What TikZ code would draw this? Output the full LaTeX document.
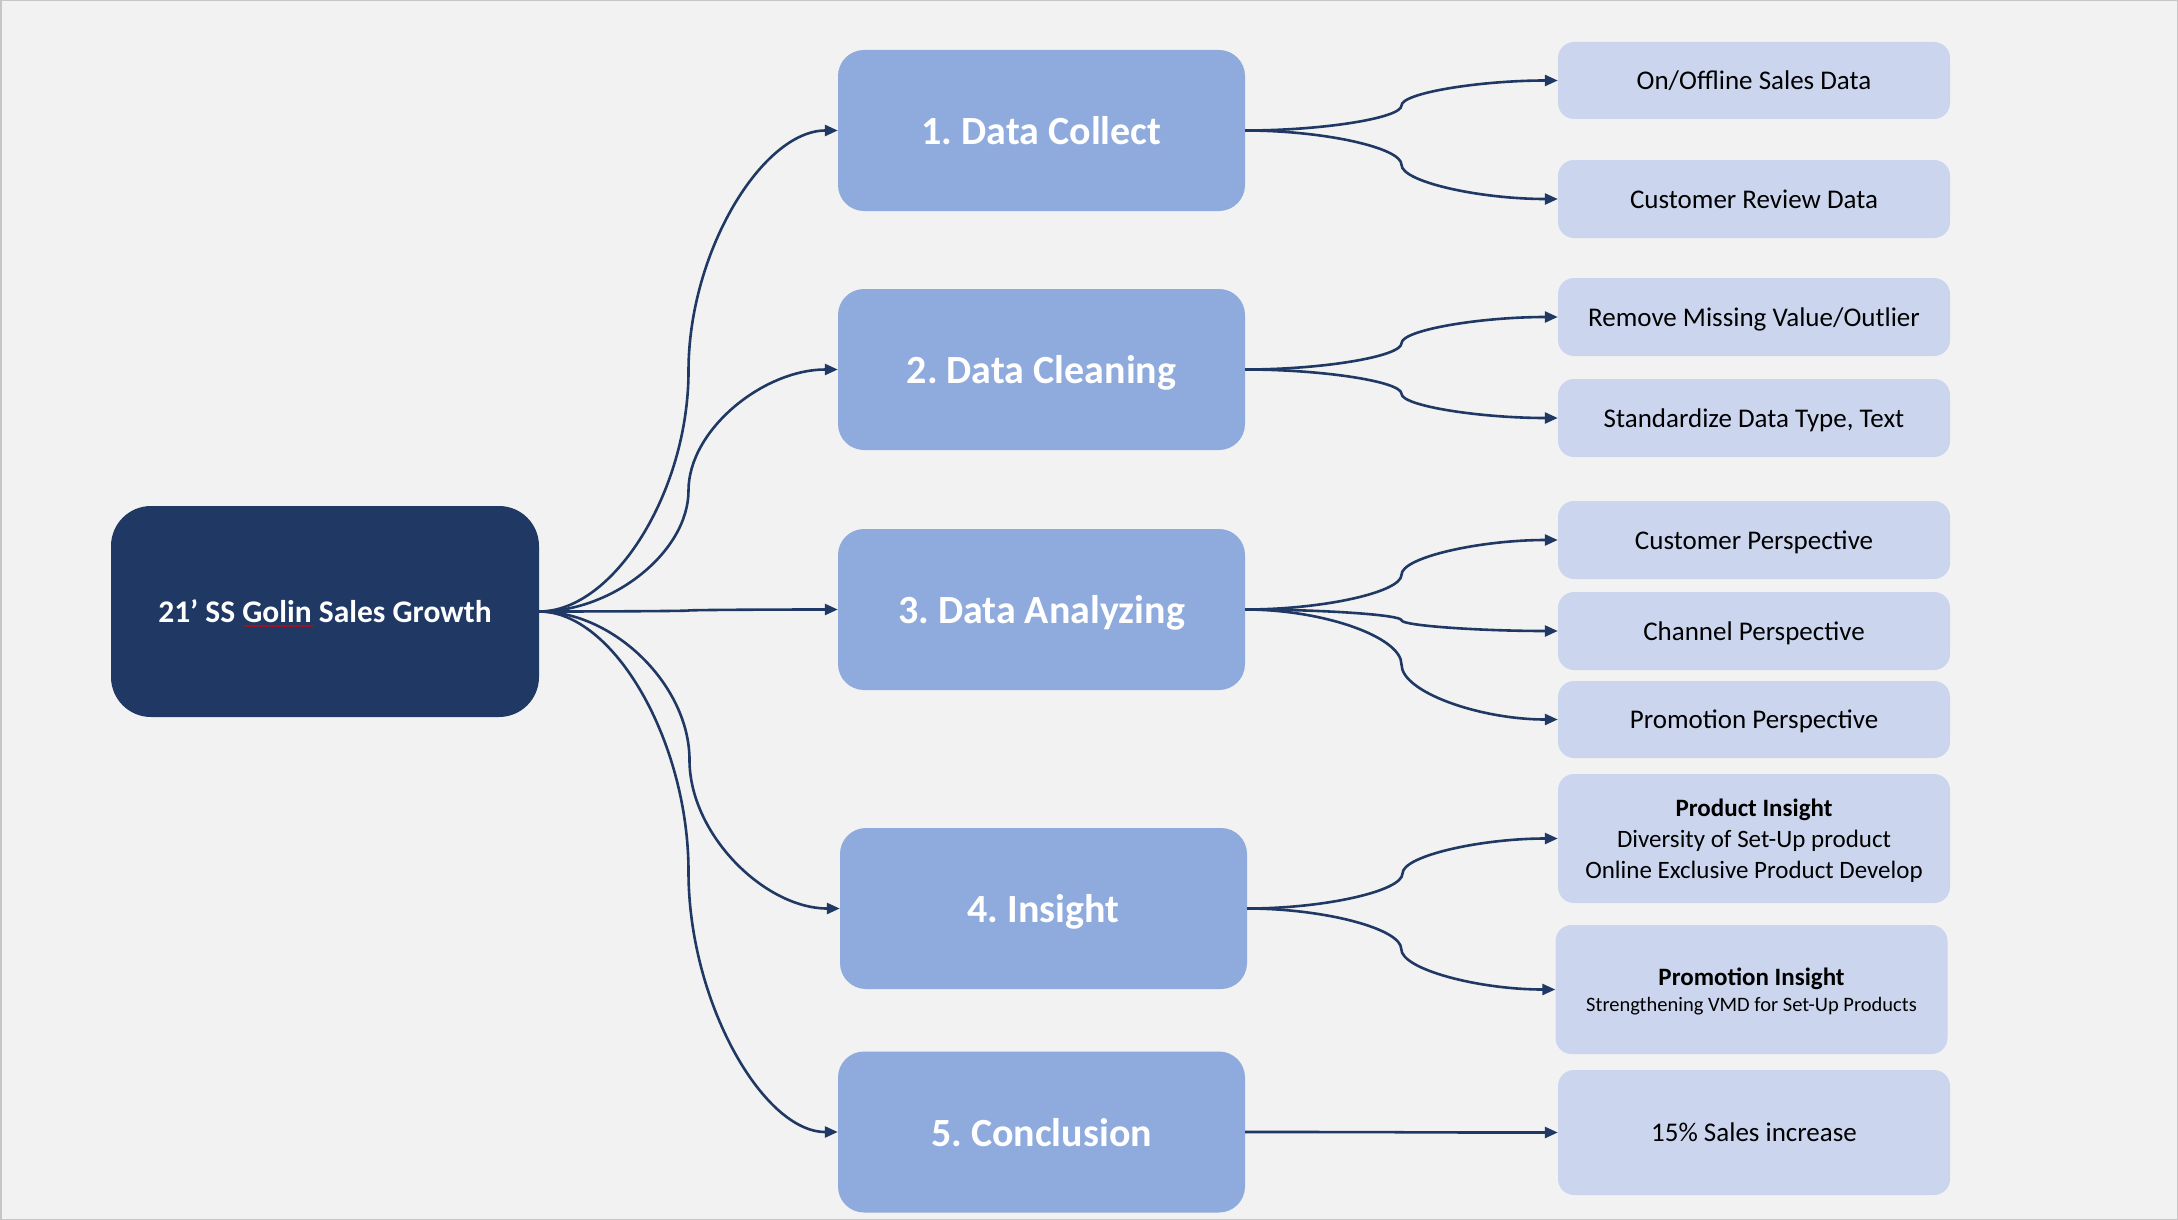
\documentclass[tikz,border=0pt]{standalone}
\usepackage{fontspec}
\setmainfont{Carlito}
\usetikzlibrary{calc,arrows.meta,decorations.pathmorphing}
\definecolor{bgc}{HTML}{F2F2F2}
\definecolor{navy}{HTML}{203864}
\definecolor{midc}{HTML}{8FAADC}
\definecolor{leafc}{HTML}{CBD6EE}
\definecolor{linec}{HTML}{1F3864}
\tikzset{
  rootbox/.style={fill=navy, rounded corners=40pt, minimum width=428pt, minimum height=211pt, inner sep=0pt, text=white, font=\fontsize{31.5}{37}\selectfont\bfseries},
  midbox/.style={fill=midc, rounded corners=26pt, minimum width=407pt, minimum height=161pt, inner sep=0pt, text depth=0pt, text=white, font=\fontsize{40}{48}\selectfont\bfseries},
  leafbox/.style={fill=leafc, rounded corners=16pt, minimum width=392pt, inner sep=0pt, text depth=0pt, text=black, align=center, font=\fontsize{27}{32}\selectfont},
  conn/.style={draw=linec, line width=2.6pt, -{Triangle[length=13pt,width=11pt]}},
}
\newcommand{\conn}[2]{%
  \draw[conn] let \p1=(#1.east), \p2=(#2.west) in
    (\p1) .. controls ({0.75*\x1+0.25*\x2},\y1) and ({0.5*(\x1+\x2)},{0.75*\y1+0.25*\y2})
    .. ({0.5*(\x1+\x2)},{0.5*(\y1+\y2)})
    .. controls ({0.5*(\x1+\x2)},{0.25*\y1+0.75*\y2}) and ({0.25*\x1+0.75*\x2},\y2) .. (\p2);}
\begin{document}
\frenchspacing
\begin{tikzpicture}[x=1pt,y=-1pt]
\useasboundingbox (0,0) rectangle (2178,1220);
\fill[bgc] (0,0) rectangle (2178,1220);
\draw[gray!45, line width=1.5pt] (0.75,0.75) rectangle (2177.25,1219.25);

\node[rootbox] (root) at (325,611.5) {21’ SS Golin Sales Growth};
\draw[red!85!black, line width=0.7pt, decorate, decoration={snake, amplitude=0.9pt, segment length=3pt}] (243,626) -- (314,626);

\node[midbox] (m1) at (1041.5,130.5) {1. Data Collect};
\node[midbox] (m2) at (1041.5,369.5) {2. Data Cleaning};
\node[midbox] (m3) at (1041.5,609.5) {3. Data Analyzing};
\node[midbox] (m4) at (1043.5,908.5) {4. Insight};
\node[midbox] (m5) at (1041.5,1132) {5. Conclusion};

\node[leafbox, minimum height=77pt] (r1) at (1754,80.5) {On/Offline Sales Data};
\node[leafbox, minimum height=78pt] (r2) at (1754,199) {Customer Review Data};
\node[leafbox, minimum height=78pt] (r3) at (1754,317) {Remove Missing Value/Outlier};
\node[leafbox, minimum height=78pt] (r4) at (1754,418) {Standardize Data Type, Text};
\node[leafbox, minimum height=78pt] (r5) at (1754,540) {Customer Perspective};
\node[leafbox, minimum height=78pt] (r6) at (1754,631) {Channel Perspective};
\node[leafbox, minimum height=77pt] (r7) at (1754,719.5) {Promotion Perspective};
\node[leafbox, minimum height=129pt, font=\fontsize{25}{31}\selectfont] (r8) at (1754,838.5) {\textbf{Product Insight}\\Diversity of Set-Up product\\Online Exclusive Product Develop};
\node[leafbox, minimum height=129pt, font=\fontsize{25}{29}\selectfont] (r9) at (1751.5,989.5) {\textbf{Promotion Insight}\\[-3pt]{\fontsize{20.5}{24}\selectfont Strengthening VMD for Set-Up Products}};
\node[leafbox, minimum height=125pt] (r10) at (1754,1132.5) {15\% Sales increase};

\conn{root}{m1}
\conn{root}{m2}
\conn{root}{m3}
\conn{root}{m4}
\conn{root}{m5}
\conn{m1}{r1}
\conn{m1}{r2}
\conn{m2}{r3}
\conn{m2}{r4}
\conn{m3}{r5}
\conn{m3}{r6}
\conn{m3}{r7}
\conn{m4}{r8}
\conn{m4}{r9}
\conn{m5}{r10}
\end{tikzpicture}
\end{document}
